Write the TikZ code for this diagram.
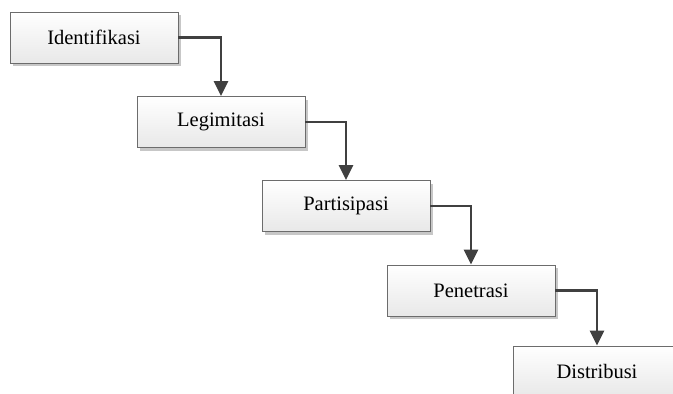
\documentclass[tikz,border=0pt]{standalone}
\usepackage{fontspec}
\setmainfont{Liberation Serif}
\usetikzlibrary{arrows.meta, shadows}

\begin{document}
\begin{tikzpicture}
		[x=1pt,y=1pt,line cap=butt,
		%Styles
		stage/.style={rectangle,draw=gray!85!black,line width=0.8pt,
			minimum width=168pt,minimum height=51pt,
			top color=white,bottom color=black!9,
			drop shadow={shadow xshift=3pt,shadow yshift=-3pt,fill=black!22,opacity=1},
			font=\fontsize{20.5}{24}\selectfont},
		flow/.style={line width=2.6pt,draw=black!75,
			-{Triangle[length=15pt,width=14pt]}}
		]
		
		\clip (0,0) rectangle (673,-394);
		
		%The graphic
		
		\node[stage] (IDF) at (94, -37.5) {Identifikasi};
		\node[stage] (LGT) at (221, -122) {Legimitasi};
		\node[stage] (PRT) at (346, -206) {Partisipasi};
		\node[stage] (PNT) at (471, -290.5) {Penetrasi};
		\node[stage] (DST) at (597, -371.5) {Distribusi};
		
		\draw[flow] (IDF) -| (LGT);
		\draw[flow] (LGT) -| (PRT);
		\draw[flow] (PRT) -| (PNT);
		\draw[flow] (PNT) -| (DST);
	\end{tikzpicture}
\end{document}
